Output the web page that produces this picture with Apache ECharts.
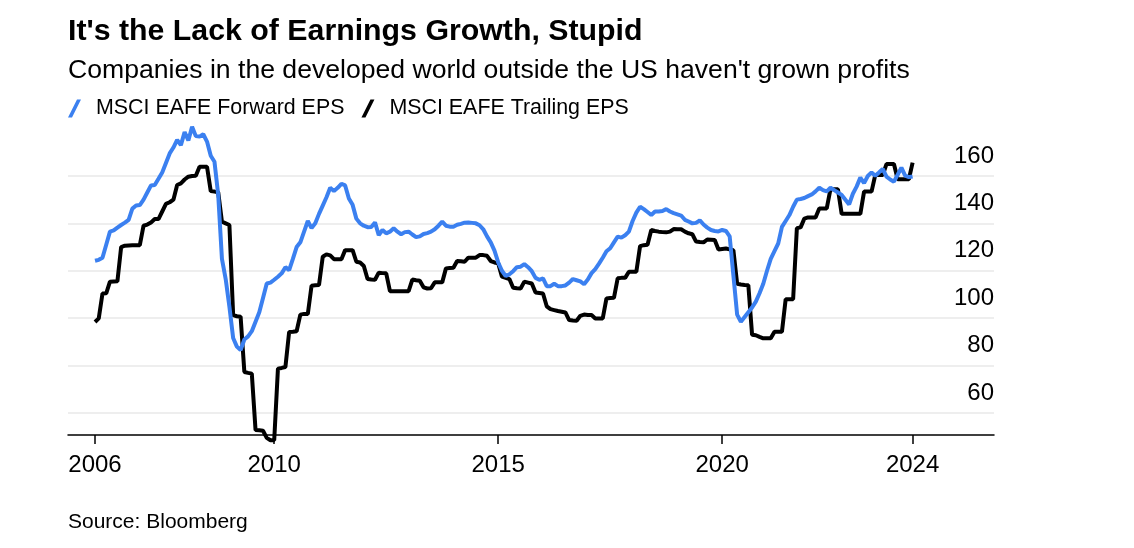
<!DOCTYPE html>
<html><head><meta charset="utf-8">
<script src="https://cdn.jsdelivr.net/npm/echarts@6/dist/echarts.min.js"></script>
<style>html,body{margin:0;padding:0;background:#fff}#c{width:1134px;height:548px}</style>
</head><body><div id="c"></div>
<script>
// Monthly observations, Jan 2006 .. Apr 2024
const months = [];
for (let y = 2006; y <= 2024; y++) {
  for (let m = 1; m <= 12; m++) {
    if (y === 2024 && m > 4) break;
    months.push(y + '-' + String(m).padStart(2, '0'));
  }
}
const forwardEPS = [
  124.2,124.6,125.5,131,136.5,137,138.2,139.3,140.3,141.5,146.2,147.5,
  147.7,150,153,156,156.2,158.8,161.5,165.5,169.5,172,175.2,173,
  178.5,175,180.8,176.8,176.6,177.6,174.5,168.5,166,152,125,116.5,
  104.8,91.6,88,86.5,91,92.3,94.5,98.5,102.5,108.5,114.6,115,
  116.2,117.5,118.9,121.5,120.3,125,130,132,136.5,141,138,140,
  144,147.5,151,155,153.6,155,156.7,156,150.5,147.8,142,140,
  139,138.4,138.5,140.4,135,137.2,135.8,136.5,137.9,136.5,135.4,136.3,
  136.5,135.3,134.2,134.5,135.5,135.9,136.5,137.5,139,140.7,139,138.6,
  138.6,139.4,139.8,140.3,140.4,140.2,140,139.2,137.5,134.5,132,128.5,
  123.5,120,117.8,118.5,119.8,121.5,121.7,122.8,121.5,119.8,117,116.2,
  116.8,113.5,113.5,114.5,113.5,113.5,113.8,115,116.5,116,115.5,114.3,
  116.3,119,120.7,123,125.5,128.2,129.5,132,134.4,134,135,136.5,
  141,144.5,147,146,144.8,143.5,145,145,145.2,146,145,144.3,
  143.8,143.3,141.5,140.8,140,140.2,141.3,139.5,138.2,137.2,136.8,136.6,
  137.2,136.8,134.5,118,101.5,98.5,100.5,102.5,104.5,107,110.5,114.5,
  120,125,128.3,131.5,138.5,141,143.5,147,150,150.3,150.7,151.5,
  152.2,153.5,155,154,153.5,155,154,153,152,150,148,152.5,
  155.5,159.3,157,160,161.5,160.1,161.5,163,159.7,158.5,157.6,160.5,
  163.5,160.1,159.5,159.8
];
const trailingEPS = [
  98.4,99.9,110.4,110.5,115.4,115.5,115.6,130,130.6,130.7,130.8,130.8,
  130.8,139,139.5,140.4,141.8,141.8,145,148.2,148.9,150,156.2,156.9,
  158.5,159.7,160,160.1,163.9,163.9,163.9,153.6,153.4,153.1,140.7,140,
  139.3,101.3,100.8,100.6,77.3,76.9,76.6,52.8,52.7,52.5,49.5,48.5,
  48.5,78.7,79,79.4,94.2,94.3,94.5,101.5,101.8,101.8,113.7,113.9,
  114,125.9,126.9,126.5,124.9,124.9,124.9,128.7,128.7,128.7,123.8,123.5,
  122,116.5,116.3,116.2,119.2,119,118.9,111.4,111.4,111.4,111.4,111.4,
  111.4,116.3,116,115.8,113,112.5,112.6,115.1,115.1,115.1,121,121.2,
  121.3,124.1,124,123.8,125.5,125.5,125.5,126.6,126.6,126.3,124.1,123.5,
  123.1,117.5,117,116.5,112.8,112.6,112.5,115.4,115,114.6,110.8,110.6,
  110.4,105,103.8,103.4,103,102.7,102.4,99.2,99,98.9,101,101.5,
  101.3,101.3,99.9,99.9,99.9,108.3,108.5,108.6,116.8,117,117,119.6,
  119.6,119.6,130.4,130.8,131,137.2,136.8,136.5,136.3,136.2,136.5,137.6,
  137.5,137.5,136.5,135.8,135.4,132.3,132.1,132,133.2,133.1,133,129,
  129.2,129.4,129,128.7,114.5,114.2,114,113.9,93,92.8,92.1,91.5,
  91.5,91.5,94.3,94.3,94.3,108,108,108,138,138.3,142,142.5,
  142.5,142.5,146.3,146.3,146.3,154.4,154.4,154.4,144,144,144,144,
  144,144,153.4,153.4,153.4,160.4,160.4,160.4,165,165,165,158.6,
  158.6,158.6,158.6,165.6
];
const xTickValues = [2006, 2010, 2015, 2020, 2024.25];
const xTickLabels = ['2006', '2010', '2015', '2020', '2024'];
const yTickValues = [60, 80, 100, 120, 140, 160];
const seriesNames = ['MSCI EAFE Forward EPS', 'MSCI EAFE Trailing EPS'];

const toYear = s => { const [y, m] = s.split('-').map(Number); return y + (m - 1) / 12; };
const FONT = '"Liberation Sans", Arial, Helvetica, sans-serif';

const chart = echarts.init(document.getElementById('c'), null, { renderer: 'canvas' });
chart.setOption({
  backgroundColor: '#fff',
  animation: false,
  textStyle: { fontFamily: FONT },
  title: [
    { text: "It's the Lack of Earnings Growth, Stupid", left: 68, top: 17, padding: 0,
      textStyle: { fontSize: 30.3, fontWeight: 'bold', color: '#000', fontFamily: FONT } },
    { text: "Companies in the developed world outside the US haven't grown profits", left: 68, top: 57, padding: 0,
      textStyle: { fontSize: 26.6, fontWeight: 'normal', color: '#000', fontFamily: FONT } },
    { text: 'Source: Bloomberg', left: 68, top: 512, padding: 0,
      textStyle: { fontSize: 21, fontWeight: 'normal', color: '#000', fontFamily: FONT } }
  ],
  legend: {
    data: seriesNames, left: 68, top: 98, padding: 0,
    itemWidth: 13, itemHeight: 18, itemGap: 17,
    icon: 'path://M0,18L4,18L13,0L9,0Z',
    textStyle: { fontSize: 21.4, color: '#000', fontFamily: FONT, padding: [0, 0, 0, 10] }
  },
  grid: { left: 68, right: 140, top: 116.7, bottom: 113, containLabel: false },
  xAxis: {
    type: 'value', min: 2005.397, max: 2026.067,
    axisLine: { show: true, onZero: false, lineStyle: { color: '#000', width: 1.5 } },
    axisTick: { show: true, customValues: xTickValues, length: 9, lineStyle: { color: '#000', width: 1.5 } },
    axisLabel: {
      customValues: xTickValues, fontSize: 24, color: '#000', margin: 18, fontFamily: FONT,
      formatter: v => { const i = xTickValues.findIndex(t => Math.abs(t - v) < 0.01); return i >= 0 ? xTickLabels[i] : ''; }
    },
    splitLine: { show: false }
  },
  yAxis: {
    type: 'value', position: 'right', min: 50.7, max: 185,
    axisLine: { show: false },
    axisTick: { show: false, customValues: yTickValues },
    axisLabel: { customValues: yTickValues, inside: true, margin: 0, fontSize: 24, color: '#000',
      verticalAlign: 'bottom', padding: [0, 0, 8, 0], fontFamily: FONT },
    splitLine: { show: true, lineStyle: { color: '#e8e8e8', width: 1.5 } }
  },
  series: [
    { name: seriesNames[1], type: 'line', showSymbol: false, symbol: 'none', clip: false,
      color: '#000', lineStyle: { color: '#000', width: 4 },
      data: months.map((d, i) => [toYear(d), trailingEPS[i]]) },
    { name: seriesNames[0], type: 'line', showSymbol: false, symbol: 'none', clip: false,
      color: '#3b80f0', lineStyle: { color: '#3b80f0', width: 4 },
      data: months.map((d, i) => [toYear(d), forwardEPS[i]]) }
  ]
});
</script></body></html>
